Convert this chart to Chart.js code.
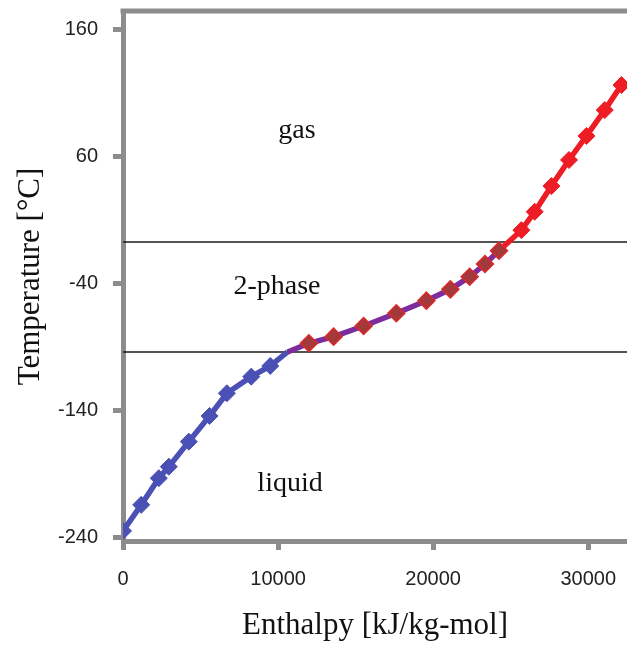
<!DOCTYPE html>
<html lang="en">
<head>
    <meta charset="UTF-8">
    <title>Enthalpy vs Temperature</title>
    <script src="https://cdn.jsdelivr.net/npm/chart.js@4.4.0/dist/chart.umd.min.js"></script>
    <style>
        body { margin: 0; background: #fff; }
        .container { width: 627px; height: 645px; }
    </style>
</head>
<body>
    <div class="container">
        <canvas id="myChart" width="627" height="645"></canvas>
    </div>
    <script>
    // enthalpy [kJ/kg-mol] and temperature [C] for each phase
    var liquidH = [0, 1174, 2310, 2955, 4245, 5581, 6697, 8271, 9497, 10613];
    var liquidT = [-234.5, -214, -193, -184, -164.3, -144.1, -126.3, -113.2, -104.8, -93.8];

    var twoPhaseH = [10613, 11987, 13581, 15516, 17626, 19561, 21110, 22355, 23342, 24245];
    var twoPhaseT = [-93.8, -87, -81.8, -73.4, -63.4, -53.5, -44.6, -34.7, -24.7, -14.2];

    var gasH = [24245, 25690, 26548, 27626, 28761, 29884, 31065, 32142];
    var gasT = [-14.2, 1.9, 16.4, 36.6, 57.1, 76.0, 96.3, 116.0];

    // phase boundaries (dew / bubble temperature)
    var boundaryT = [-7.4, -93.8];

    var xTicks = [0, 10000, 20000, 30000];
    var yTicks = [-240, -140, -40, 60, 160];

    var regionNames = ["gas", "2-phase", "liquid"];
    var regionH = [11220, 9930, 10770];
    var regionT = [74.4, -48.3, -203];

    var xMin = 0, xMax = 32500;
    var yMin = -242.4, yMax = 173.4;

    function toPoints(xs, ys) {
        var pts = [];
        for (var i = 0; i < xs.length; i++) {
            pts.push({ x: xs[i], y: ys[i] });
        }
        return pts;
    }

    // first/last points are only joins between the phases, no marker there
    function radii(n, hideFirst, hideLast) {
        var r = [];
        for (var i = 0; i < n; i++) r.push(8.5);
        if (hideFirst) r[0] = 0;
        if (hideLast) r[n - 1] = 0;
        return r;
    }

    var datasets = [];
    for (var b = 0; b < boundaryT.length; b++) {
        datasets.push({
            data: [{ x: xMin, y: boundaryT[b] }, { x: xMax, y: boundaryT[b] }],
            borderColor: '#1a1a1a',
            borderWidth: 1.5,
            pointRadius: 0,
            order: 5
        });
    }
    datasets.push({
        label: 'liquid',
        data: toPoints(liquidH, liquidT),
        borderColor: '#4b50b4',
        backgroundColor: '#4b50b4',
        borderWidth: 5.5,
        pointStyle: 'rectRot',
        pointRadius: radii(liquidH.length, false, true),
        pointBorderWidth: 1,
        order: 2
    });
    datasets.push({
        label: 'gas',
        data: toPoints(gasH, gasT),
        borderColor: '#ee1c24',
        backgroundColor: '#ee1c24',
        borderWidth: 5.5,
        pointStyle: 'rectRot',
        pointRadius: radii(gasH.length, true, false),
        pointBorderWidth: 1,
        order: 1
    });
    datasets.push({
        label: '2-phase',
        data: toPoints(twoPhaseH, twoPhaseT),
        borderColor: '#7d2c9e',
        backgroundColor: '#a3393a',
        pointBorderColor: '#dc2a2a',
        borderWidth: 5.5,
        pointStyle: 'rectRot',
        pointRadius: radii(twoPhaseH.length, true, false),
        pointBorderWidth: 1.5,
        order: 0
    });

    var frameAndLabels = {
        id: 'frameAndLabels',
        beforeDatasetsDraw: function(chart) {
            var ctx = chart.ctx;
            var area = chart.chartArea;
            ctx.save();
            ctx.strokeStyle = '#8c8c8c';
            ctx.lineWidth = 5;
            ctx.beginPath();
            ctx.moveTo(area.left - 2.5, area.top - 1);
            ctx.lineTo(chart.width, area.top - 1);
            ctx.stroke();
            ctx.restore();
        },
        afterDraw: function(chart) {
            var ctx = chart.ctx;
            var xs = chart.scales.x, ys = chart.scales.y;
            ctx.save();
            ctx.fillStyle = '#111';
            ctx.font = '28px "Liberation Serif", "Times New Roman", serif';
            ctx.textAlign = 'center';
            ctx.textBaseline = 'alphabetic';
            for (var i = 0; i < regionNames.length; i++) {
                ctx.fillText(regionNames[i], xs.getPixelForValue(regionH[i]), ys.getPixelForValue(regionT[i]));
            }
            ctx.restore();
        }
    };

    function noPadding(scale) {
        scale.paddingTop = 0;
        scale.paddingBottom = 0;
        scale.paddingLeft = 0;
        scale.paddingRight = 0;
    }

    var axisGray = '#8c8c8c';
    var ctx = document.getElementById("myChart").getContext('2d');
    var myChart = new Chart(ctx, {
        type: 'line',
        data: { datasets: datasets },
        options: {
            responsive: false,
            animation: false,
            layout: { autoPadding: false, padding: { top: 12, right: 0, left: 0, bottom: 0 } },
            plugins: {
                legend: { display: false },
                tooltip: { enabled: false }
            },
            scales: {
                x: {
                    type: 'linear',
                    min: xMin,
                    max: xMax,
                    afterBuildTicks: function(scale) {
                        scale.ticks = xTicks.map(function(v) { return { value: v }; });
                    },
                    afterFit: function(scale) { scale.height = 104; noPadding(scale); },
                    border: { color: axisGray, width: 5 },
                    grid: { drawOnChartArea: false, tickColor: axisGray, tickWidth: 5, tickLength: 9 },
                    ticks: {
                        padding: 17,
                        color: '#222',
                        maxRotation: 0,
                        font: { family: '"Liberation Sans", Arial, sans-serif', size: 20 },
                        callback: function(v) { return v; }
                    },
                    title: {
                        display: true,
                        text: 'Enthalpy [kJ/kg-mol]',
                        color: '#111',
                        padding: { top: 0, bottom: 1 },
                        font: { family: '"Liberation Serif", "Times New Roman", serif', size: 31 }
                    }
                },
                y: {
                    type: 'linear',
                    min: yMin,
                    max: yMax,
                    afterBuildTicks: function(scale) {
                        scale.ticks = yTicks.map(function(v) { return { value: v }; });
                    },
                    afterFit: function(scale) { scale.width = 123; noPadding(scale); },
                    border: { color: axisGray, width: 5 },
                    grid: { drawOnChartArea: false, tickColor: axisGray, tickWidth: 5, tickLength: 10 },
                    ticks: {
                        padding: 15,
                        color: '#222',
                        font: { family: '"Liberation Sans", Arial, sans-serif', size: 20 }
                    },
                    title: {
                        display: true,
                        text: 'Temperature [°C]',
                        color: '#111',
                        padding: { top: 12, bottom: 0 },
                        font: { family: '"Liberation Serif", "Times New Roman", serif', size: 31 }
                    }
                }
            }
        },
        plugins: [frameAndLabels]
    });
    </script>
</body>
</html>
